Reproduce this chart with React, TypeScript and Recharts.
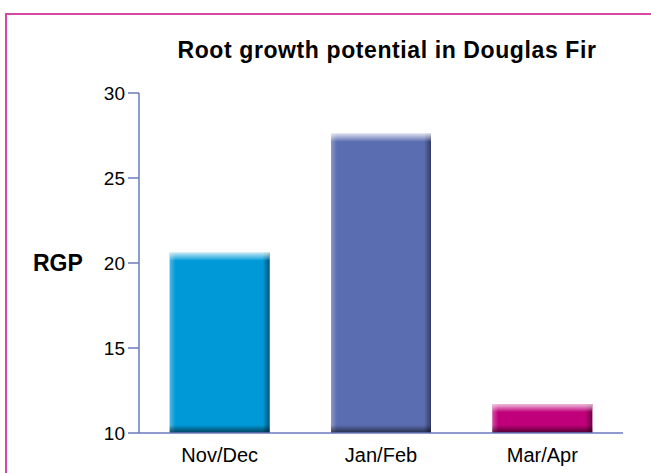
import { BarChart, Bar, XAxis, YAxis, Cell } from 'recharts'

const periods = ['Nov/Dec', 'Jan/Feb', 'Mar/Apr']
const rgpValues = [20.6, 27.6, 11.7]
const barColors = ['#0099d8', '#5b6db1', '#c0007a']
const yTicks = [10, 15, 20, 25, 30]

const data = periods.map((p, i) => ({ period: p, rgp: rgpValues[i] }))

const AXIS = '#6b78bc'
const FONT = '"Liberation Sans", Arial, Helvetica, sans-serif'

// bevelled bar: flat colour with a soft top highlight and a dark bottom / right edge
function BevelBar(props: any) {
  const { x, y, width, height, fill, index } = props
  if (!height || height <= 0) return null
  const id = `bev${index}`
  const edge = Math.min(8, height / 3)
  return (
    <g>
      <defs>
        <linearGradient id={`${id}t`} x1="0" y1="0" x2="0" y2="1">
          <stop offset="0" stopColor="#fff" stopOpacity={0.75} />
          <stop offset="1" stopColor="#fff" stopOpacity={0} />
        </linearGradient>
        <linearGradient id={`${id}b`} x1="0" y1="0" x2="0" y2="1">
          <stop offset="0" stopColor="#000" stopOpacity={0} />
          <stop offset="1" stopColor="#000" stopOpacity={0.6} />
        </linearGradient>
        <linearGradient id={`${id}r`} x1="0" y1="0" x2="1" y2="0">
          <stop offset="0" stopColor="#000" stopOpacity={0} />
          <stop offset="1" stopColor="#000" stopOpacity={0.45} />
        </linearGradient>
        <linearGradient id={`${id}l`} x1="0" y1="0" x2="1" y2="0">
          <stop offset="0" stopColor="#fff" stopOpacity={0.3} />
          <stop offset="1" stopColor="#fff" stopOpacity={0} />
        </linearGradient>
      </defs>
      <rect x={x} y={y} width={width} height={height} fill={fill} />
      <rect x={x} y={y} width={6} height={height} fill={`url(#${id}l)`} />
      <rect x={x + width - 7} y={y} width={7} height={height} fill={`url(#${id}r)`} />
      <rect x={x} y={y} width={width} height={edge} fill={`url(#${id}t)`} />
      <rect x={x} y={y + height - edge} width={width} height={edge} fill={`url(#${id}b)`} />
    </g>
  )
}

export default function App() {
  return (
    <div style={{ position: 'absolute', left: 0, top: 0, width: 651, height: 473, background: '#fff', overflow: 'hidden', fontFamily: FONT }}>
      <div style={{ position: 'absolute', left: 5, top: 13, width: 700, height: 500, borderTop: '2px solid #d8479f', borderLeft: '2px solid #d8479f' }} />
      <div style={{ position: 'absolute', left: 0, width: 774, top: 37, textAlign: 'center', fontSize: 23, letterSpacing: 0.6, fontWeight: 'bold', color: '#000', whiteSpace: 'nowrap' }}>
        Root growth potential in Douglas Fir
      </div>
      <div style={{ position: 'absolute', left: 0, top: 0 }}>
        <BarChart width={651} height={473} data={data} margin={{ top: 93, right: 28, bottom: 0, left: 0 }} barCategoryGap="19%">
          <XAxis
            dataKey="period"
            height={40}
            axisLine={{ stroke: AXIS, strokeWidth: 1.5 }}
            tickLine={false}
            tickSize={0}
            tickMargin={15}
            tick={{ fill: '#000', fontSize: 20, fontFamily: FONT }}
          />
          <YAxis
            width={139}
            domain={[10, 30]}
            ticks={yTicks}
            axisLine={{ stroke: AXIS, strokeWidth: 1.5 }}
            tickLine={{ stroke: AXIS, strokeWidth: 1.5 }}
            tickSize={11}
            tickMargin={3}
            tick={{ fill: '#000', fontSize: 19, fontFamily: FONT }}
            label={{ value: 'RGP', position: 'insideLeft', offset: 33, fill: '#000', fontSize: 23, fontWeight: 'bold', fontFamily: FONT }}
          />
          <Bar dataKey="rgp" isAnimationActive={false} shape={<BevelBar />}>
            {data.map((d, i) => (
              <Cell key={d.period} fill={barColors[i]} />
            ))}
          </Bar>
        </BarChart>
      </div>
    </div>
  )
}
